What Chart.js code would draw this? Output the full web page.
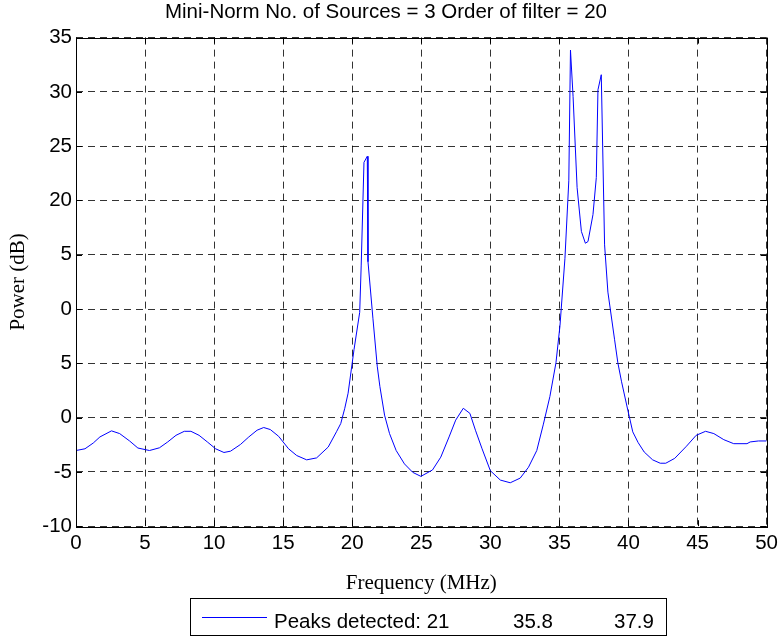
<!DOCTYPE html>
<html>
<head>
<meta charset="utf-8">
<script src="https://cdn.jsdelivr.net/npm/chart.js@4.4.1/dist/chart.umd.min.js"></script>
<style>
  body { margin: 0; background: #fff; }
  canvas { display: block; }
</style>
</head>
<body>
<canvas id="chart" width="783" height="636"></canvas>
<script>
// spectrum
const freq = [0, 0.65, 1.25, 1.73, 2.57, 3.16, 3.88, 4.48, 5.32, 6.04, 6.64, 7.24, 7.84, 8.32, 8.91, 9.51,
  10.11, 10.71, 11.19, 11.91, 12.51, 13.11, 13.59, 14.07, 14.67, 15.39, 15.98, 16.70, 17.42, 18.26, 18.86,
  19.17, 19.46, 19.70, 20.13, 20.54, 20.65, 20.85, 21.09, 21.14, 21.50, 21.81, 22.00, 22.34, 22.70,
  23.18, 23.78, 24.38, 24.97, 25.81, 26.41, 27.01, 27.49, 28.04, 28.52, 28.92, 29.40, 30.00, 30.72, 31.44,
  32.16, 32.76, 33.36, 33.84, 34.31, 34.75, 35.04, 35.40, 35.68, 35.80, 35.99, 36.28, 36.59, 36.88, 37.07,
  37.43, 37.67, 37.79, 38.03, 38.27, 38.51, 38.99, 39.23, 39.50, 39.95, 40.31, 40.70, 41.14, 41.75, 42.30,
  42.70, 43.35, 44.20, 44.90, 45.58, 46.18, 46.90, 47.62, 48.58, 48.81, 49.41, 50];
const power = [-3.03, -2.87, -2.34, -1.78, -1.22, -1.47, -2.15, -2.80, -3.03, -2.78, -2.24, -1.63, -1.26, -1.26, -1.63, -2.24,
  -2.87, -3.21, -3.09, -2.47, -1.78, -1.16, -0.91, -1.10, -1.72, -2.87, -3.49, -3.89, -3.71, -2.71, -1.30,
  -0.54, 0.86, 2.25, 6.28, 9.70, 14.05, 23.51, 24.07, 14.36, 9.10, 4.74, 2.88, 0.23, -1.47,
  -3.03, -4.26, -5.04, -5.41, -4.82, -3.64, -1.78, -0.23, 0.86, 0.39, -1.16, -2.87, -4.89, -5.75, -6.00,
  -5.57, -4.57, -3.03, -0.60, 1.94, 5.05, 8.46, 14.67, 21.81, 33.85, 29.56, 21.18, 17.15, 16.06, 16.22,
  18.70, 22.11, 30.19, 31.58, 15.91, 11.56, 7.22, 5.05, 3.30, 0.70, -1.31, -2.30, -3.17, -3.89, -4.20,
  -4.20, -3.75, -2.63, -1.63, -1.26, -1.47, -2.03, -2.40, -2.40, -2.24, -2.15, -2.15];

// y tick labels exactly as printed in the figure
const yTickValues = [35, 30, 25, 20, 15, 10, 5, 0, -5, -10];
const yTickLabels = ['35', '30', '25', '20', '5', '0', '5', '0', '-5', '-10'];
const legendTexts = ['Peaks detected: 21', '35.8', '37.9'];

const sans = "'Liberation Sans', Arial, sans-serif";
const serif = "'Liberation Serif', 'Times New Roman', serif";

// box, inward tick marks and the legend, matlab style
const frame = {
  id: 'frame',
  afterDraw(chart) {
    const ctx = chart.ctx;
    const a = chart.chartArea;
    const xs = chart.scales.x, ys = chart.scales.y;
    ctx.save();
    ctx.strokeStyle = '#000';
    ctx.lineWidth = 1;
    ctx.setLineDash([]);
    ctx.strokeRect(Math.round(a.left) + 0.5, Math.round(a.top) + 0.5,
      Math.round(a.right - a.left), Math.round(a.bottom - a.top));
    ctx.beginPath();
    xs.ticks.forEach(t => {
      const px = Math.round(xs.getPixelForValue(t.value)) + 0.5;
      ctx.moveTo(px, a.bottom); ctx.lineTo(px, a.bottom - 6);
      ctx.moveTo(px, a.top); ctx.lineTo(px, a.top + 6);
    });
    ys.ticks.forEach(t => {
      const py = Math.round(ys.getPixelForValue(t.value)) + 0.5;
      ctx.moveTo(a.left, py); ctx.lineTo(a.left + 6, py);
      ctx.moveTo(a.right, py); ctx.lineTo(a.right - 6, py);
    });
    ctx.stroke();

    // legend
    ctx.strokeRect(190.5, 598.5, 476, 37);
    ctx.strokeStyle = '#0000ff';
    ctx.beginPath();
    ctx.moveTo(202, 617.5); ctx.lineTo(267, 617.5);
    ctx.stroke();
    ctx.fillStyle = '#000';
    ctx.font = '20.5px ' + sans;
    ctx.textBaseline = 'alphabetic';
    const tx = [274, 513, 614];
    legendTexts.forEach((s, i) => ctx.fillText(s, tx[i], 628));
    ctx.restore();
  }
};

const ctx = document.getElementById('chart').getContext('2d');
new Chart(ctx, {
  type: 'line',
  data: {
    datasets: [{
      data: freq.map((f, i) => ({ x: f, y: power[i] })),
      borderColor: '#0000ff',
      borderWidth: 1,
      pointRadius: 0,
      tension: 0,
      fill: false
    }]
  },
  options: {
    responsive: false,
    animation: false,
    layout: { padding: { top: 0, right: 11, bottom: 40, left: 0 } },
    plugins: {
      legend: { display: false },
      tooltip: { enabled: false },
      title: {
        display: true,
        text: 'Mini-Norm No. of Sources = 3 Order of filter = 20',
        color: '#000',
        font: { family: sans, size: 20.5, weight: 'normal' },
        padding: { top: 0, bottom: 13 }
      }
    },
    scales: {
      x: {
        type: 'linear',
        min: 0, max: 50,
        ticks: { stepSize: 5, color: '#000', font: { family: sans, size: 20.5 }, padding: 5, maxRotation: 0 },
        grid: { color: 'rgba(0,0,0,0.8)', drawTicks: false },
        border: { display: false, dash: [7, 5] },
        title: { display: true, text: 'Frequency (MHz)', color: '#000',
          font: { family: serif, size: 21 }, padding: { top: 10, bottom: 0 } }
      },
      y: {
        min: -10, max: 35,
        afterFit(scale) { scale.width = 76; },
        afterBuildTicks(scale) { scale.ticks = yTickValues.map(v => ({ value: v })); },
        ticks: {
          color: '#000', font: { family: sans, size: 20.5 }, padding: 4,
          callback: v => yTickLabels[yTickValues.indexOf(v)]
        },
        grid: { color: 'rgba(0,0,0,0.8)', drawTicks: false },
        border: { display: false, dash: [7, 5] },
        title: { display: true, text: 'Power (dB)', color: '#000',
          font: { family: serif, size: 21 }, padding: { top: 6, bottom: 0 } }
      }
    }
  },
  plugins: [frame]
});
</script>
</body>
</html>
